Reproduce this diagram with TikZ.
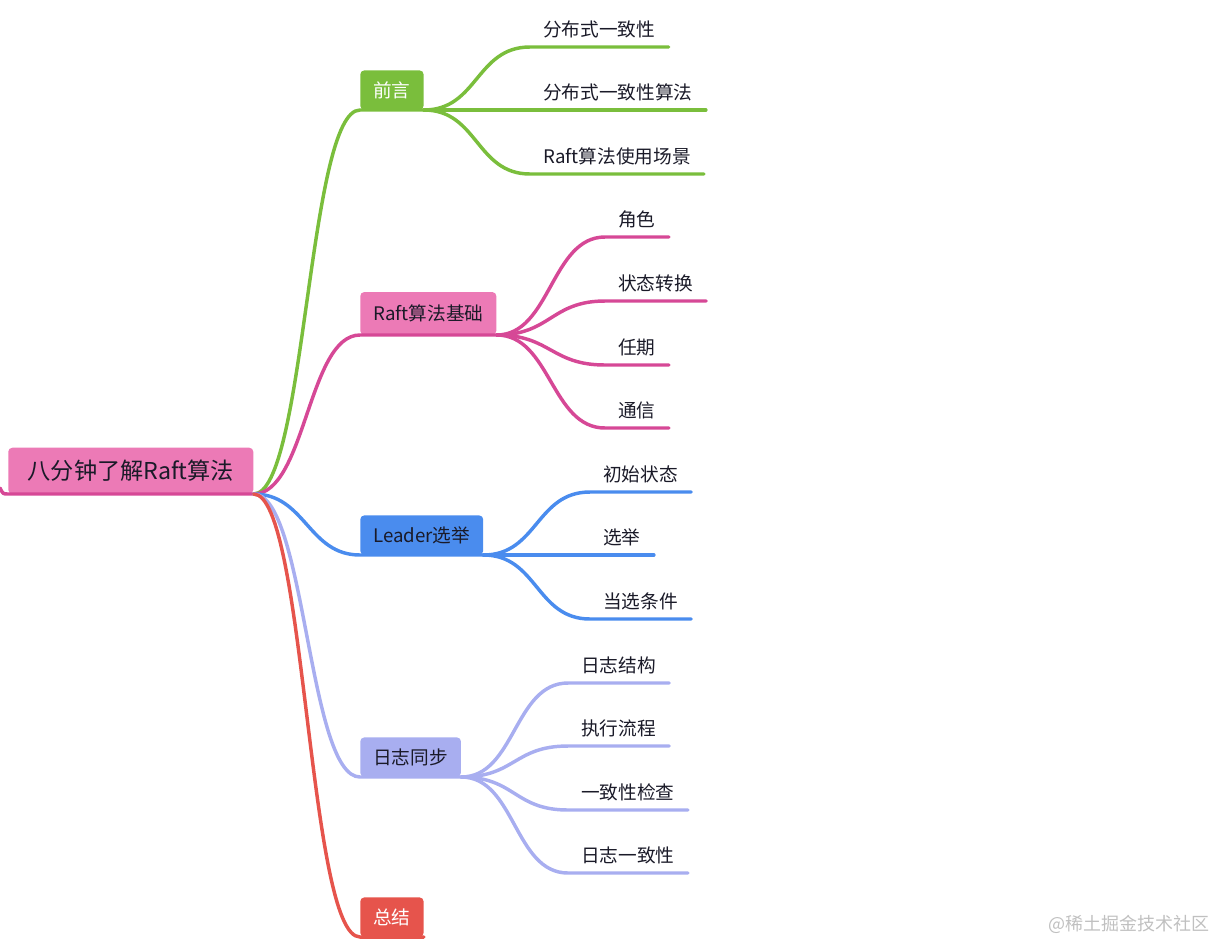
\documentclass[tikz,border=0pt]{standalone}
\usepackage{fontspec}
\setmainfont{Noto Sans CJK SC}
\definecolor{introgreen}{RGB}{122,190,60}
\definecolor{basepink}{RGB}{236,122,182}
\definecolor{basepinkdark}{RGB}{214,72,150}
\definecolor{electblue}{RGB}{74,140,238}
\definecolor{loglav}{RGB}{168,174,240}
\definecolor{sumred}{RGB}{230,84,76}
\definecolor{inkdark}{RGB}{26,26,40}
\definecolor{markgray}{RGB}{192,192,192}
\usepackage{tikz}

\begin{document}
\begin{tikzpicture}[x=0.75pt, y=-0.75pt,
    rootbox/.style={fill=basepink, text=inkdark, rounded corners=3pt, anchor=south west,
                    inner xsep=14.5pt, minimum height=34.5pt, font=\fontsize{17.4}{20}\selectfont},
    topic/.style={rounded corners=3pt, anchor=south west, inner xsep=9.75pt,
                  minimum height=29.5pt, font=\fontsize{14}{16}\selectfont},
    leaf/.style={anchor=south west, inner xsep=9.75pt, inner ysep=5.5pt,
                 text height=0.8em, text depth=0.2em, text=inkdark,
                 font=\fontsize{14}{16}\selectfont},
    branch/.style={line width=2.6pt, line cap=round},
    wmark/.style={text=markgray, font=\fontsize{13.5}{16}\selectfont}]
  \useasboundingbox (0,0) rectangle (1216,943);

  % root
  \node[rootbox] (root) at (8,494) {八分钟了解Raft算法};
  \coordinate (rootend) at (0,488);
  \draw[branch, basepinkdark] (root.south east) -- (root.south west) .. controls +(-5,0) .. (rootend);

  % first level
  \node[topic, fill=introgreen, text=white] (intro) at (360,110) {前言};
  \node[topic, fill=basepink, text=inkdark, minimum height=32pt] (basics) at (360,335) {Raft算法基础};
  \node[topic, fill=electblue, text=inkdark] (elect) at (360,555) {Leader选举};
  \node[topic, fill=loglav, text=inkdark] (logsync) at (360,777) {日志同步};
  \node[topic, fill=sumred, text=white] (summary) at (360,937) {总结};

  \foreach \topic/\col in {intro/introgreen, basics/basepinkdark, elect/electblue,
                           logsync/loglav, summary/sumred} {
    \draw[branch, \col] (root.south east) .. controls +(52,0) and +(-52,0) .. (\topic.south west)
      -- (\topic.south east);
  }

  % second level
  \foreach \i/\y/\txt in {1/47/分布式一致性, 2/110/分布式一致性算法, 3/174/Raft算法使用场景} {
    \node[leaf] (intro-\i) at (530,\y) {\txt};
    \draw[branch, introgreen] (intro.south east) .. controls +(54,0) and +(-54,0) .. (intro-\i.south west)
      -- (intro-\i.south east);
  }
  \foreach \i/\y/\txt in {1/237/角色, 2/301/状态转换, 3/365/任期, 4/428/通信} {
    \node[leaf] (basics-\i) at (605,\y) {\txt};
    \draw[branch, basepinkdark] (basics.south east) .. controls +(54,0) and +(-54,0) .. (basics-\i.south west)
      -- (basics-\i.south east);
  }
  \foreach \i/\y/\txt in {1/492/初始状态, 2/555/选举, 3/619/当选条件} {
    \node[leaf] (elect-\i) at (590,\y) {\txt};
    \draw[branch, electblue] (elect.south east) .. controls +(54,0) and +(-54,0) .. (elect-\i.south west)
      -- (elect-\i.south east);
  }
  \foreach \i/\y/\txt in {1/683/日志结构, 2/746/执行流程, 3/810/一致性检查, 4/873/日志一致性} {
    \node[leaf] (logsync-\i) at (568,\y) {\txt};
    \draw[branch, loglav] (logsync.south east) .. controls +(54,0) and +(-54,0) .. (logsync-\i.south west)
      -- (logsync-\i.south east);
  }

  \node[wmark] (watermark) at (1129,924) {@稀土掘金技术社区};
\end{tikzpicture}
\end{document}
